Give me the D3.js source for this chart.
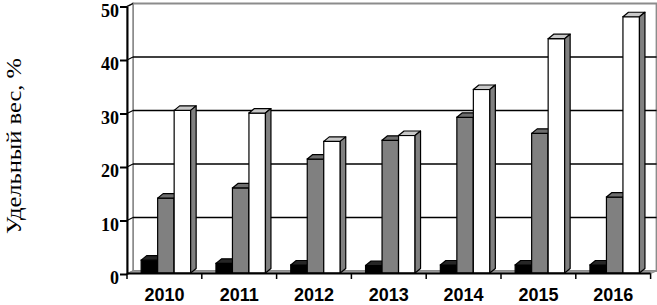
<!DOCTYPE html>
<html>
<head>
<meta charset="utf-8">
<script src="https://cdn.jsdelivr.net/npm/d3@7/dist/d3.min.js"></script>
<style>
  html, body { margin: 0; padding: 0; background: #fff; }
  svg { display: block; }
</style>
</head>
<body>
<svg id="chart" width="657" height="305"></svg>
<script>
// ---- data ----
const years = ["2010", "2011", "2012", "2013", "2014", "2015", "2016"];
const seriesNames = ["s1", "s2", "s3"];
const blackValues = [2.4, 1.8, 1.5, 1.4, 1.5, 1.5, 1.5];
const grayValues  = [14.0, 15.9, 21.3, 24.8, 29.1, 26.1, 14.2];
const whiteValues = [30.4, 29.9, 24.6, 25.7, 34.3, 43.8, 47.9];
const yTicks = [0, 10, 20, 30, 40, 50];
const yLabel = "Удельный вес, %";

// ---- layout ----
const svg = d3.select("#chart");
const X0 = 127, X1 = 650.6;
const wallDx = 6, wallDy = 3;
const barDx = 5.5, barDy = 4.5;

const x = d3.scaleBand().domain(years).range([X0, X1]).paddingInner(0).paddingOuter(0);
const groupW = 49.5;
const xSub = d3.scaleBand().domain(seriesNames).range([0, groupW]);
const yAxisScale = d3.scaleLinear().domain([0, 50]).range([274, 6.5]);
const yWall = d3.scaleLinear().domain([0, 50]).range([271, 3.5]);
const yBar = d3.scaleLinear().domain([0, 50]).range([273, 5.5]);

// ---- walls & floor ----
const wallTop = yWall(50), wallBottom = yWall(0);
svg.append("rect")
  .attr("x", X0 + wallDx).attr("y", wallTop)
  .attr("width", X1 - X0).attr("height", wallBottom - wallTop)
  .attr("fill", "#fff").attr("stroke", "#8c8c8c").attr("stroke-width", 2);
svg.append("polygon")
  .attr("points", [[X0, yAxisScale(0)], [X0, yAxisScale(50)], [X0 + wallDx, wallTop], [X0 + wallDx, wallBottom]].map(p => p.join(",")).join(" "))
  .attr("fill", "#fff").attr("stroke", "#8c8c8c").attr("stroke-width", 1.5);
svg.append("polygon")
  .attr("points", [[X0, 273.5], [X1, 273.5], [X1 + wallDx, wallBottom], [X0 + wallDx, wallBottom]].map(p => p.join(",")).join(" "))
  .attr("fill", "#a6a6a6").attr("stroke", "#8c8c8c").attr("stroke-width", 1);

// gridlines on back wall
svg.append("g").selectAll("line").data(yTicks.filter(t => t > 0 && t < 50)).join("line")
  .attr("x1", X0 + wallDx).attr("x2", X1 + wallDx)
  .attr("y1", d => yWall(d)).attr("y2", d => yWall(d))
  .attr("stroke", "#000").attr("stroke-width", 1.6);
// gridlines on side wall
svg.append("g").selectAll("line").data(yTicks.filter(t => t > 0)).join("line")
  .attr("x1", X0).attr("x2", X0 + wallDx)
  .attr("y1", d => yAxisScale(d)).attr("y2", d => yWall(d))
  .attr("stroke", "#000").attr("stroke-width", 1.2);

// ---- bars ----
const series = [
  { key: "s1", values: blackValues, front: "#000000", top: "#262626", side: "#000000" },
  { key: "s2", values: grayValues,  front: "#808080", top: "#6e6e6e", side: "#5a5a5a" },
  { key: "s3", values: whiteValues, front: "#ffffff", top: "#c8c8c8", side: "#808080" }
];

const barsG = svg.append("g");
years.forEach((yr, i) => {
  const gx = x(yr) + (x.bandwidth() - groupW) / 2 + 1.5;
  series.forEach(s => {
    const v = s.values[i];
    const bx = gx + xSub(s.key);
    const bw = xSub.bandwidth();
    const by = yBar(v), b0 = yBar(0);
    const g = barsG.append("g");
    g.append("rect").attr("x", bx).attr("y", by).attr("width", bw).attr("height", b0 - by)
      .attr("fill", s.front).attr("stroke", "#000").attr("stroke-width", 1.2);
    g.append("polygon")
      .attr("points", [[bx, by], [bx + barDx, by - barDy], [bx + bw + barDx, by - barDy], [bx + bw, by]].map(p => p.join(",")).join(" "))
      .attr("fill", s.top).attr("stroke", "#000").attr("stroke-width", 1.2).attr("stroke-linejoin", "round");
    g.append("polygon")
      .attr("points", [[bx + bw, by], [bx + bw + barDx, by - barDy], [bx + bw + barDx, b0 - barDy], [bx + bw, b0]].map(p => p.join(",")).join(" "))
      .attr("fill", s.side).attr("stroke", "#000").attr("stroke-width", 1.2).attr("stroke-linejoin", "round");
  });
});

// ---- y axis ----
const yAxis = d3.axisLeft(yAxisScale).tickValues(yTicks).tickSize(7).tickSizeOuter(0).tickPadding(1);
const yg = svg.append("g").attr("transform", `translate(${X0},0)`).call(yAxis);
yg.select(".domain").attr("stroke", "#000").attr("stroke-width", 2);
yg.selectAll(".tick line").attr("stroke", "#000").attr("stroke-width", 2);
yg.selectAll(".tick text")
  .attr("font-family", "'Liberation Serif', 'Times New Roman', serif")
  .attr("font-weight", "bold").attr("font-size", 18).attr("fill", "#000")
  .attr("dy", "0.55em");

// ---- x axis ----
svg.append("line").attr("x1", X0).attr("x2", X1).attr("y1", 273.5).attr("y2", 273.5)
  .attr("stroke", "#000").attr("stroke-width", 2);
const boundaries = years.map(d => x(d)).concat([X1]);
svg.append("g").selectAll("line").data(boundaries).join("line")
  .attr("x1", d => d).attr("x2", d => d).attr("y1", 273.5).attr("y2", 279)
  .attr("stroke", "#000").attr("stroke-width", 1.5);
const xAxis = d3.axisBottom(x).tickSize(0).tickPadding(0);
const xg = svg.append("g").attr("transform", "translate(0,300.5)").call(xAxis);
xg.select(".domain").remove();
xg.selectAll(".tick text")
  .attr("font-family", "'Liberation Sans', Arial, sans-serif")
  .attr("font-weight", "bold").attr("font-size", 18).attr("fill", "#000")
  .attr("dy", 0).attr("y", 0);

// ---- y label ----
svg.append("text")
  .attr("transform", "translate(21,146) rotate(-90)")
  .attr("text-anchor", "middle")
  .attr("font-family", "'Liberation Serif', 'Times New Roman', serif")
  .attr("font-size", 22).attr("fill", "#000")
  .attr("textLength", 176).attr("lengthAdjust", "spacingAndGlyphs")
  .text(yLabel);
</script>
</body>
</html>
